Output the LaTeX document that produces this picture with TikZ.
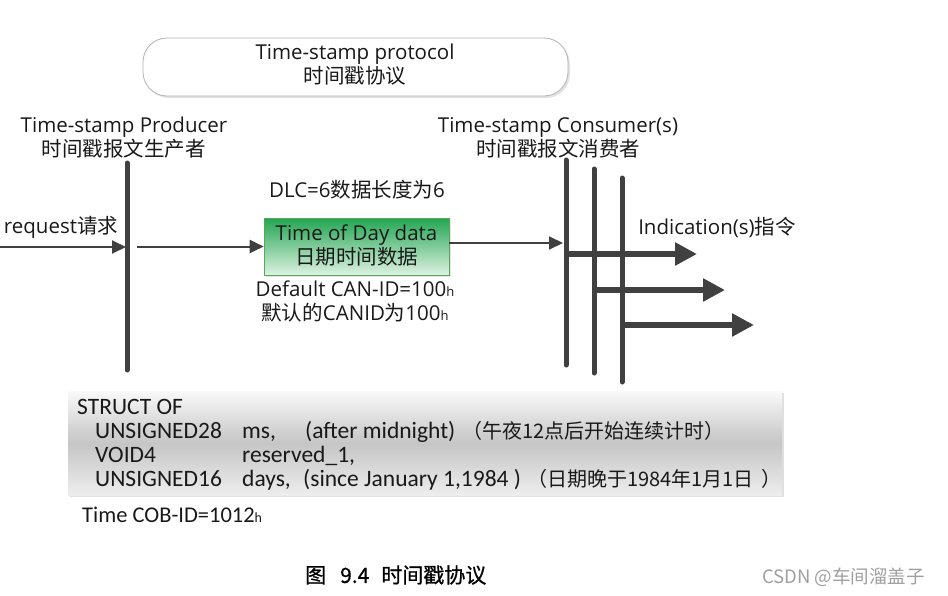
\documentclass[tikz,border=0pt]{standalone}
\usepackage{fontspec}
\setmainfont{Open Sans}
\newfontfamily\cjk{Noto Sans CJK SC}
\newfontfamily\cjkb[FakeBold=0.8]{Noto Sans CJK SC}
\newfontfamily\structfont{Carlito}
\usetikzlibrary{arrows.meta,shadows}
\definecolor{barcol}{HTML}{404040}
\definecolor{greentop}{HTML}{22A552}
\definecolor{greenbot}{HTML}{DDF2E1}
\newcommand\hsub{{\fontsize{13}{13}\selectfont h}}
\begin{document}
\begin{tikzpicture}[x=1pt,y=-1pt,
  font=\fontsize{20.5}{24}\selectfont,
  lbl/.style={align=center, inner sep=0pt, text=black!90},
  bar/.style={line width=5pt, draw=barcol, line cap=round},
  thinarrow/.style={line width=2pt, draw=barcol, -{Triangle[length=14pt,width=13pt]}},
  thickarrow/.style={line width=6pt, draw=barcol, -{Triangle[length=22pt,width=22pt]}},
  st/.style={anchor=base west, inner sep=0pt, font=\structfont\fontsize{23.5}{26}\selectfont, text=black!90},
  stc/.style={anchor=base west, inner sep=0pt, font=\cjk\fontsize{20}{24}\selectfont, text=black!90}]
\useasboundingbox (0,0) rectangle (948,595);

% protocol box
\node[draw=gray!60, line width=0.8pt, rounded corners=24pt, fill=white,
  minimum width=425pt, minimum height=58pt,
  drop shadow={shadow xshift=2pt, shadow yshift=-2pt, fill=gray!45}] (proto) at (355.5,67) {};
\node[lbl] (protolbl) at (355,65) {Time-stamp protocol\\{\cjk 时间戳协议}};

% producer
\node[lbl] (prodlbl) at (124,138) {Time-stamp Producer\\{\cjk 时间戳报文生产者}};
\coordinate (p1) at (127,163);
\coordinate (p2) at (127,370);
\draw[bar] (p1) -- (p2);

\node[lbl] (req) at (61,227) {request{\cjk 请求}};
\coordinate (rin) at (0,247);
\coordinate (rend) at (126,247);
\draw[thinarrow] (rin) -- (rend);

% time of day box
\node[draw=gray!70!green, line width=0.6pt, top color=greentop, bottom color=greenbot,
  minimum width=185pt, minimum height=57pt,
  drop shadow={shadow xshift=2pt, shadow yshift=-2pt, fill=gray!40}] (tod) at (356.5,246.5) {};
\node[lbl] (todlbl) at (356.5,245.5) {Time of Day data\\{\cjk 日期时间数据}};
\coordinate (pout) at (137,246.5);
\draw[thinarrow] (pout) -- (tod.west);

\node[lbl] (dlc) at (357,190) {DLC=6{\cjk 数据长度为}6};
\node[lbl] (canid) at (355,301.5) {Default CAN-ID=100\hsub\\{\cjk 默认的}CANID{\cjk 为}100\hsub};

% consumers
\node[lbl] (conslbl) at (558,138) {Time-stamp Consumer(s)\\{\cjk 时间戳报文消费者}};
\coordinate (c1t) at (566,160); \coordinate (c1b) at (566,365);
\coordinate (c2t) at (594,169); \coordinate (c2b) at (594,373);
\coordinate (c3t) at (622,178); \coordinate (c3b) at (622,382);
\draw[bar] (c1t) -- (c1b);
\draw[bar] (c2t) -- (c2b);
\draw[bar] (c3t) -- (c3b);
\coordinate (cin) at (563,243);
\draw[thinarrow] (tod.east |- cin) -- (cin);

\coordinate (i1s) at (566,254); \coordinate (i1e) at (697,254);
\coordinate (i2s) at (594,290); \coordinate (i2e) at (725,290);
\coordinate (i3s) at (622,325); \coordinate (i3e) at (754,325);
\draw[thickarrow] (i1s) -- (i1e);
\draw[thickarrow] (i2s) -- (i2e);
\draw[thickarrow] (i3s) -- (i3e);
\node[lbl] (ind) at (717,227) {Indication(s){\cjk 指令}};

% struct box
\node[inner sep=0pt, minimum width=714pt, minimum height=104pt,
  top color=gray!5, bottom color=gray!14, middle color=gray!45,
  drop shadow={shadow xshift=2pt, shadow yshift=-2pt, fill=gray!50}] (struct) at (425,443) {};
\node[st] (s1) at (77,414) {STRUCT OF};
\node[st] (s2) at (95,438) {UNSIGNED28};
\node[st] (s3) at (242,438) {ms,};
\node[st] (s4) at (305,438) {(after midnight)};
\node[stc] (s5) at (462,438) {（午夜12点后开始连续计时）};
\node[st] (s6) at (95,462) {VOID4};
\node[st] (s7) at (242,462) {reserved\_1,};
\node[st] (s8) at (95,486) {UNSIGNED16};
\node[st] (s9) at (242,486) {days,};
\node[st] (s10) at (303,486) {(since January 1,1984 )};
\node[stc] (s11) at (527,486) {（日期晚于1984年1月1日\hspace{8pt}）};

\node[st, font=\structfont\fontsize{22.5}{26}\selectfont] (cob) at (82,522) {Time COB-ID=1012{\fontsize{14}{14}\selectfont h}};

% caption
\node[anchor=west, inner sep=0pt, font=\cjkb\fontsize{21}{24}\selectfont] (cap) at (305,575) {图\hspace{14pt}9.4\hspace{12pt}时间戳协议};
\node[anchor=west, inner sep=0pt, font=\cjk\fontsize{18.5}{20}\selectfont, text=gray!75] (wm) at (762,577) {CSDN @车间溜盖子};
\end{tikzpicture}
\end{document}
